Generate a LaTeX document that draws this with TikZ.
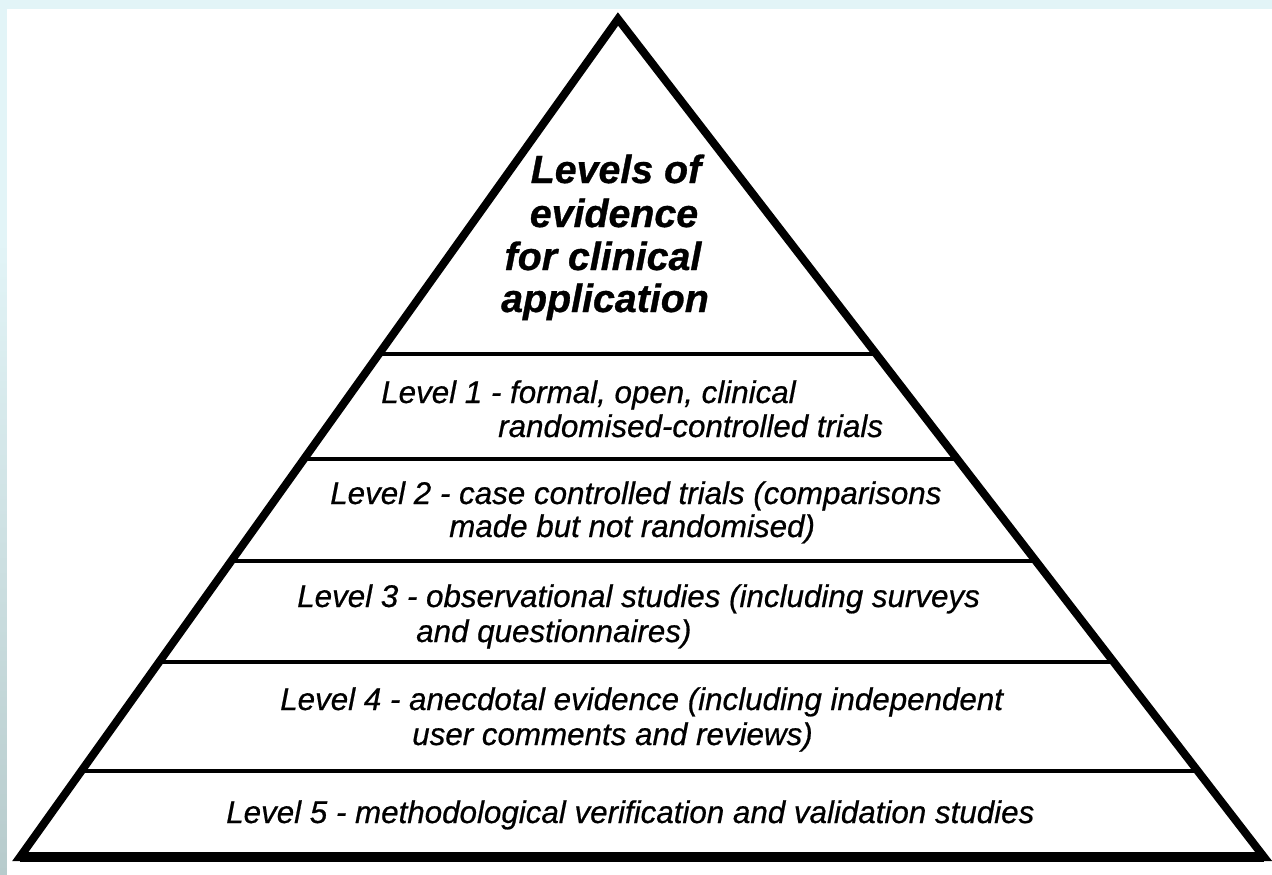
\documentclass[tikz,border=0pt]{standalone}
\usepackage{fontspec}
\setmainfont{Liberation Sans}[ItalicFeatures={FakeBold=0.6},BoldItalicFeatures={FakeBold=0.8}]
\usetikzlibrary{calc}
\definecolor{pale}{HTML}{E2F4F7}
\definecolor{strip}{HTML}{B7CBCC}
\begin{document}
\begin{tikzpicture}[x=0.75pt,y=0.75pt,
  heading/.style={anchor=base,inner sep=0pt,font=\fontsize{29.5}{33}\selectfont\bfseries\itshape},
  level/.style={anchor=base west,inner sep=0pt,font=\fontsize{23.5}{27}\selectfont\itshape},
  side/.style={line width=6pt,line join=miter},
  divider/.style={line width=2.6pt}]
\useasboundingbox (0,0) rectangle (1272,-875);
\fill [pale] (0,0) rectangle (1272,-875);
\shade [top color=pale,bottom color=strip] (0,-240) rectangle (7,-875);
\fill [white] (7,-9) rectangle (1272,-875);
\coordinate (apex) at (618,-19);
\coordinate (bl) at (20,-857);
\coordinate (br) at (1264,-857);
\foreach \h in {354,459,561,662,771}
  \draw [divider] ($(apex)!{(\h-19)/838}!(bl)$) -- ($(apex)!{(\h-19)/838}!(br)$);
\draw [side] (apex) -- (br) -- (bl) -- cycle;
\draw [line width=7.5pt] (bl) -- (br);
\node [heading] (t1) at (616,-183) {Levels of};
\node [heading] (t2) at (614,-227) {evidence};
\node [heading] (t3) at (603,-270) {for clinical};
\node [heading] (t4) at (605,-312) {application};
\node [level] (l1a) at (381,-403) {Level 1 - formal, open, clinical};
\node [level] (l1b) at (498,-437) {randomised-controlled trials};
\node [level] (l2a) at (330,-504) {Level 2 - case controlled trials (comparisons};
\node [level] (l2b) at (449,-537) {made but not randomised)};
\node [level] (l3a) at (297,-607) {Level 3 - observational studies (including surveys};
\node [level] (l3b) at (416,-642) {and questionnaires)};
\node [level] (l4a) at (280,-710) {Level 4 - anecdotal evidence (including independent};
\node [level] (l4b) at (412,-745) {user comments and reviews)};
\node [level] (l5) at (226,-823) {Level 5 - methodological verification and validation studies};
\end{tikzpicture}
\end{document}
